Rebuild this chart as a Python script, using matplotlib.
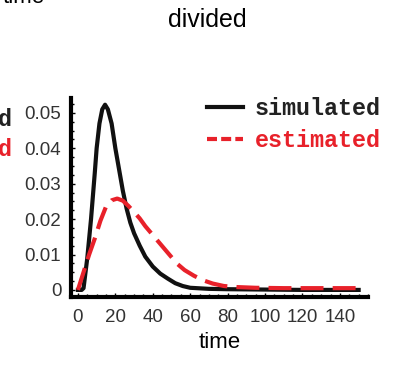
import matplotlib
matplotlib.use('Agg')
import matplotlib.pyplot as plt
from matplotlib.lines import Line2D
from matplotlib.ticker import MultipleLocator

# simulated distribution
sim_time = [0, 2, 3, 5, 7, 9, 10, 11.5, 13, 14.5, 16, 18, 20, 22, 24, 26, 28, 30, 33, 36,
            40, 44, 48, 52, 56, 60, 70, 80, 100, 120, 140, 150]
sim_vals = [0, 0, 0.0005, 0.009, 0.020, 0.033, 0.040, 0.047, 0.051, 0.0523, 0.051, 0.047, 0.040,
            0.034, 0.028, 0.023, 0.019, 0.016, 0.0125, 0.0094, 0.0066, 0.0046, 0.0032, 0.0019,
            0.0011, 0.0006, 0.0003, 0.0002, 0.0001, 0, 0, 0]

# estimated distribution
est_time = [0, 3, 6, 9, 12, 15, 18, 21, 24, 27, 30, 33, 36, 40, 44, 48, 53, 57, 62, 67, 72,
            78, 85, 95, 110, 130, 150]
est_vals = [0, 0.005, 0.010, 0.0145, 0.0195, 0.0235, 0.0253, 0.0258, 0.0252, 0.0237, 0.0220,
            0.0202, 0.018, 0.0155, 0.013, 0.0105, 0.0074, 0.0056, 0.004, 0.0027, 0.0018,
            0.0011, 0.0008, 0.0006, 0.0005, 0.0005, 0.0005]

x_ticks = [0, 20, 40, 60, 80, 100, 120, 140]
y_ticks = [0, 0.01, 0.02, 0.03, 0.04, 0.05]
y_tick_labels = ['0', '0.01', '0.02', '0.03', '0.04', '0.05']
series_names = ['simulated', 'estimated']

RED = '#e8212a'
W, H = 393, 367

fig = plt.figure(figsize=(W / 100, H / 100), dpi=100)
ax = fig.add_axes([71 / W, 1 - 297 / H, (368 - 71) / W, (297 - 98) / H])

ax.plot(sim_time, sim_vals, color='#111111', lw=3.0, solid_joinstyle='round')
ax.plot(est_time, est_vals, color=RED, lw=3.0, dashes=(5.5, 2.2))

ax.set_xlim(-3.7, 155)
ax.set_ylim(-0.002, 0.0542)
ax.set_xticks(x_ticks)
ax.set_yticks(y_ticks)
ax.set_yticklabels(y_tick_labels)
ax.xaxis.set_minor_locator(MultipleLocator(5))
ax.yaxis.set_minor_locator(MultipleLocator(0.0025))

for s in ['top', 'right']:
    ax.spines[s].set_visible(False)
for s in ['left', 'bottom']:
    ax.spines[s].set_linewidth(3)
ax.tick_params(which='major', direction='in', length=3, width=1, labelsize=13.5,
               labelcolor='#333333')
ax.tick_params(axis='x', which='major', pad=9)
ax.tick_params(axis='y', which='major', pad=7)
ax.tick_params(which='minor', direction='in', length=2, width=1)
for lab in ax.get_xticklabels() + ax.get_yticklabels():
    lab.set_family('Liberation Sans')

ax.set_xlabel('time', fontsize=16, family='Liberation Sans', labelpad=4)

handles = [Line2D([], [], color='#111111', lw=3.0),
           Line2D([], [], color=RED, lw=3.0, dashes=(2.4, 1.0))]
leg = ax.legend(handles, series_names, loc='upper left', bbox_to_anchor=(207 / W, 1 - 97 / H),
                bbox_transform=fig.transFigure, frameon=False, handlelength=1.55,
                handletextpad=0.5, labelspacing=0.4, borderpad=0, borderaxespad=0,
                prop={'family': 'Liberation Mono', 'weight': 'bold', 'size': 16.8})
for txt, col in zip(leg.get_texts(), ['#222222', RED]):
    txt.set_color(col)

fig.text(207 / W, 1 - 20 / H, 'divided', ha='center', va='center', fontsize=18, family='Liberation Sans')

# cut-off pieces of the neighbouring panels
fig.text(45 / W, 1 - 3 / H, 'time', ha='right', va='baseline', fontsize=16, family='Liberation Sans')
fig.text(13 / W, 1 - 119 / H, 'simulated', ha='right', va='center', fontsize=16.8,
         family='Liberation Mono', weight='bold', color='#222222')
fig.text(13 / W, 1 - 149 / H, 'estimated', ha='right', va='center', fontsize=16.8,
         family='Liberation Mono', weight='bold', color=RED)

fig.savefig('out.png', dpi=100)
